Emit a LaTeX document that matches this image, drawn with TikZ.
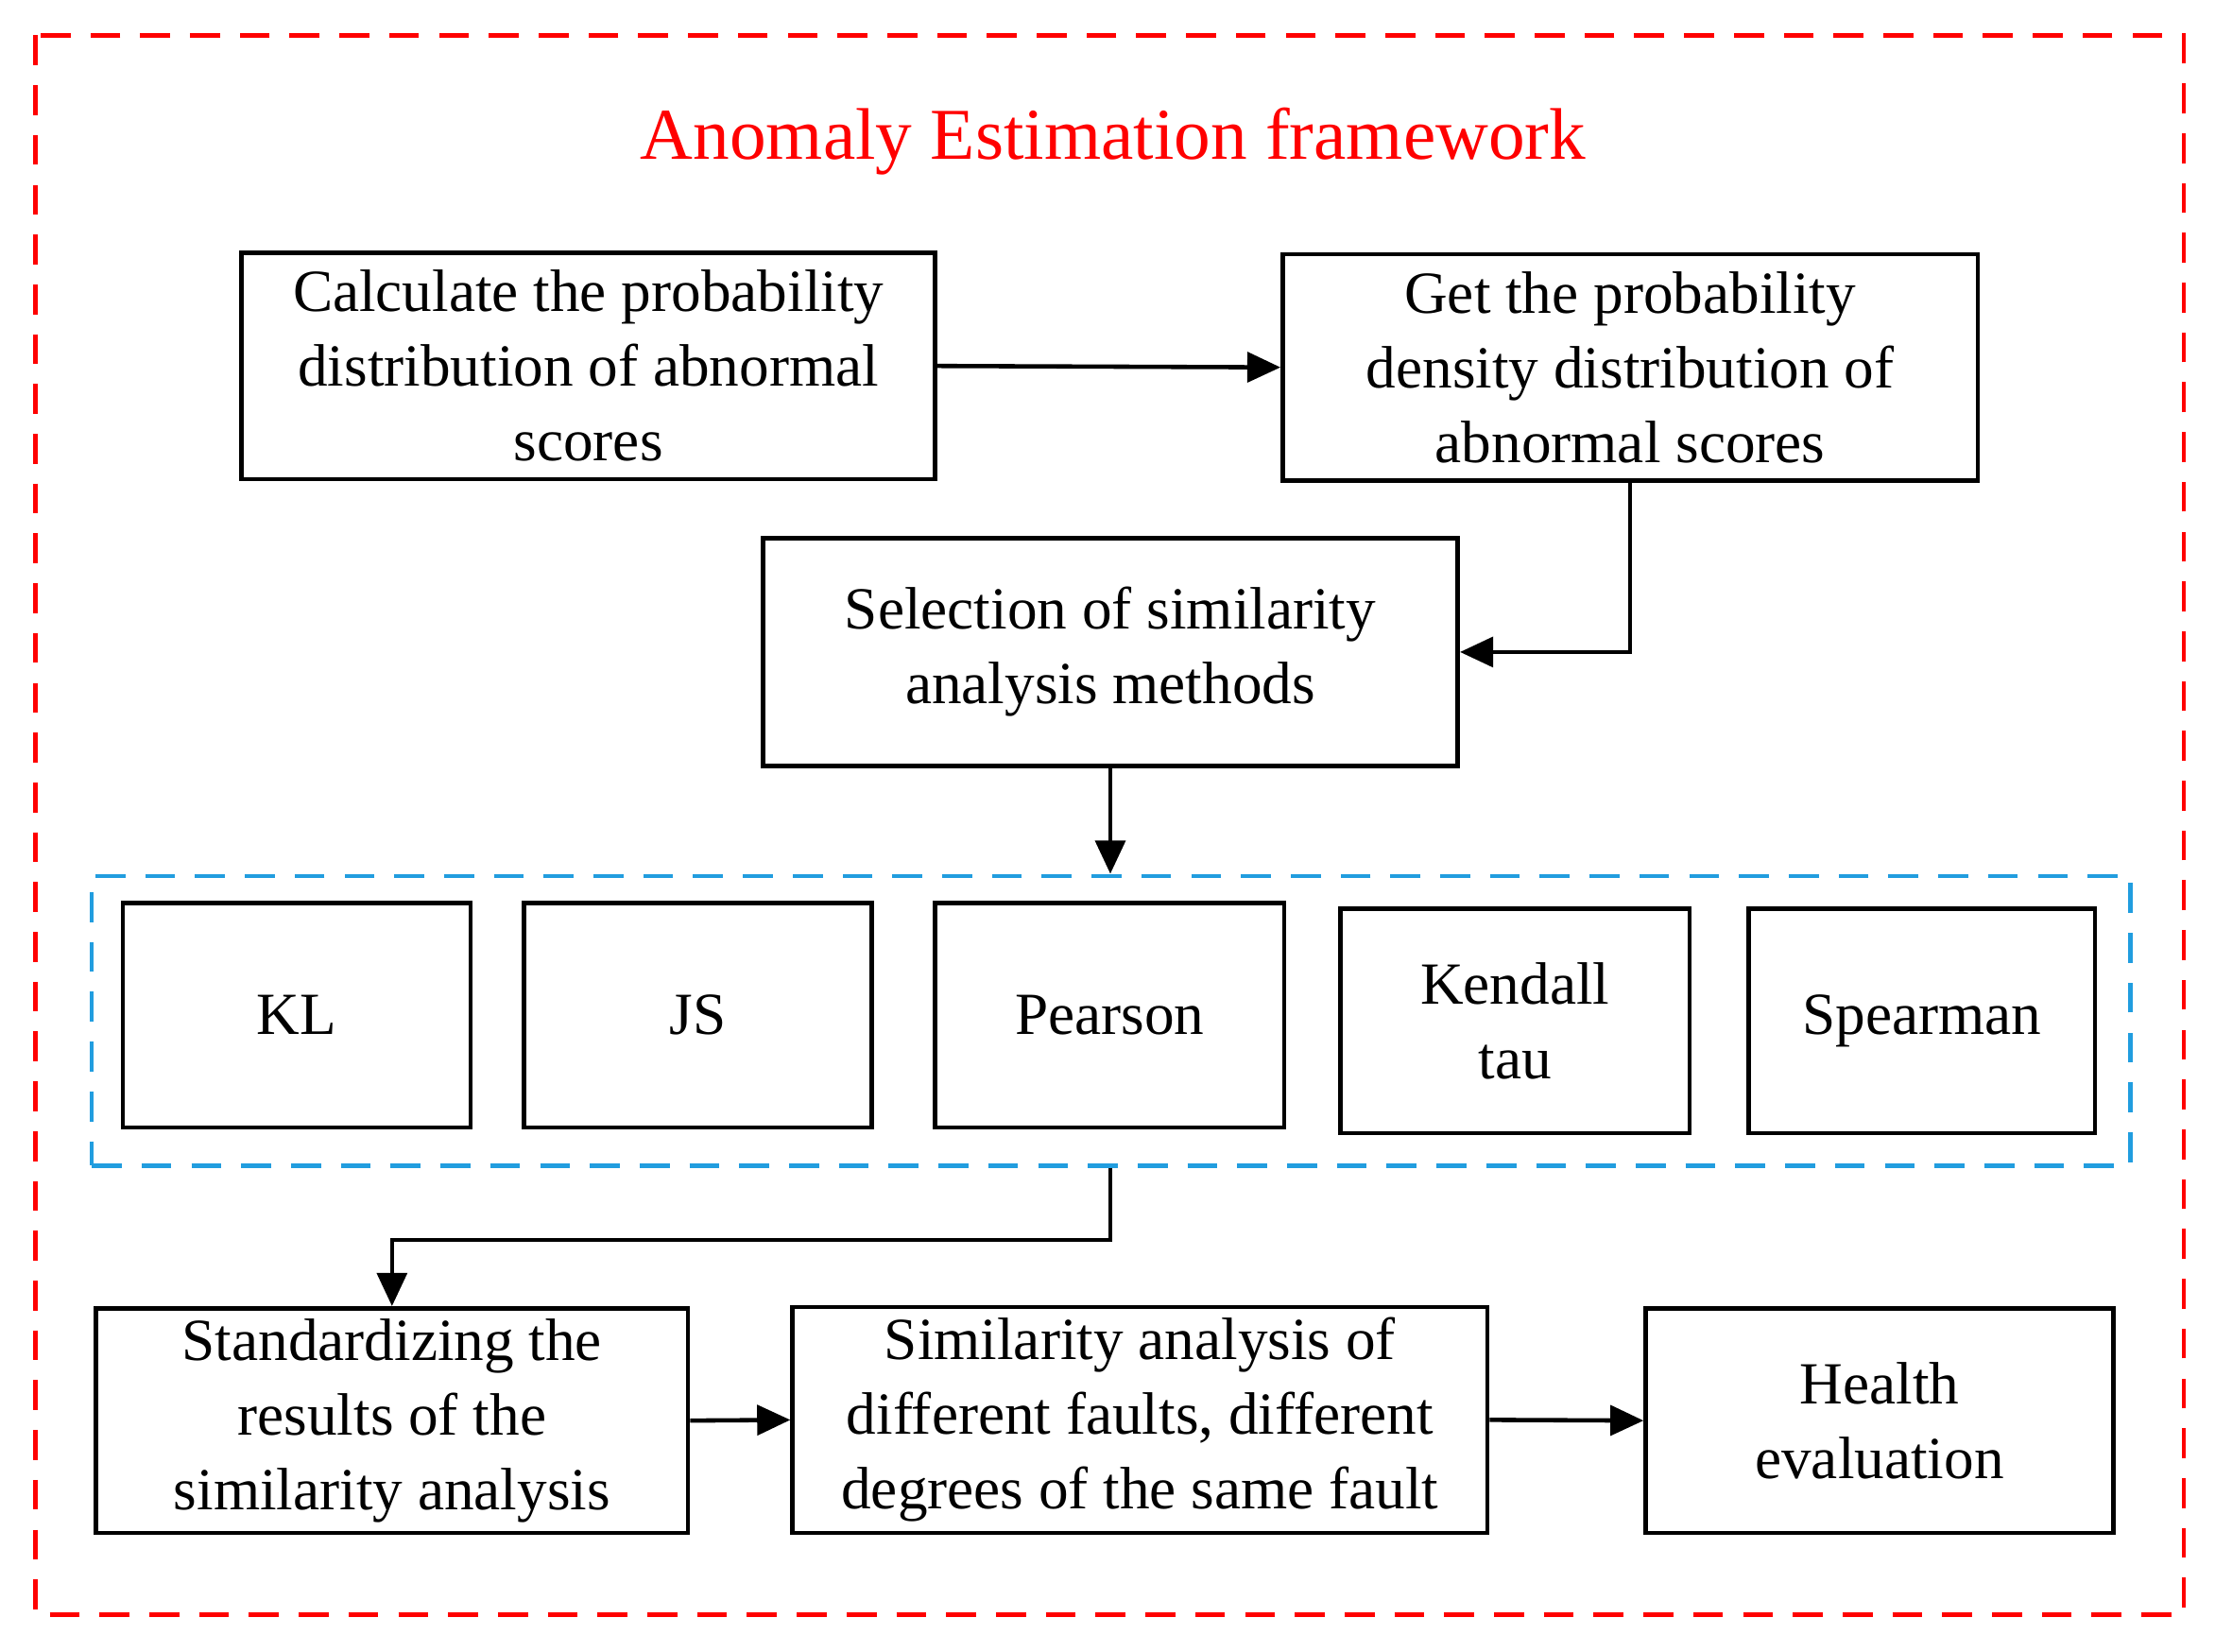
\documentclass[tikz,border=0pt]{standalone}
\usepackage{fontspec}
\setmainfont{Liberation Serif}
\usetikzlibrary{arrows.meta}
\begin{document}
\begin{tikzpicture}[x=0.01495cm,y=-0.01495cm,
  box/.style={draw,line width=1.3pt,align=center,font=\fontsize{18}{22.5}\selectfont,inner sep=0pt},
  arr/.style={line width=1.3pt,-{Triangle[length=10pt,width=9pt]}}]
\useasboundingbox (0,0) rectangle (1568,1169);
\draw[red,line width=1.3pt,dash pattern=on 9pt off 6pt] (25,25) rectangle (1546,1143);
\node[red,font=\fontsize{22}{26}\selectfont] (title) at (788,100) {Anomaly Estimation framework};
\newcommand\bx[6]{\node[box,minimum width={(#4-#2)*0.01495cm},minimum height={(#5-#3)*0.01495cm}] (#1) at ({(#2+#4)/2},{(#3+#5)/2}) {#6};}
\bx{A}{171}{179}{662}{339}{Calculate the probability\\distribution of abnormal\\scores}
\bx{B}{908}{180}{1400}{340}{Get the probability\\density distribution of\\abnormal scores}
\bx{C}{540}{381}{1032}{542}{Selection of similarity\\analysis methods}
\node[draw=cyan!80!blue!90,line width=1.3pt,dash pattern=on 9pt off 6pt,minimum width={1443*0.01495cm},minimum height={205*0.01495cm},inner sep=0pt] (G) at (786.5,722.5) {};
\bx{KL}{87}{639}{333}{798}{KL}
\bx{JS}{371}{639}{617}{798}{JS}
\bx{P}{662}{639}{909}{798}{Pearson}
\bx{K}{949}{643}{1196}{802}{Kendall\\tau}
\bx{S}{1238}{643}{1483}{802}{Spearman}
\bx{D}{68}{926}{487}{1085}{Standardizing the\\results of the\\similarity analysis}
\bx{E}{561}{925}{1053}{1085}{Similarity analysis of\\different faults, different\\degrees of the same fault}
\bx{F}{1165}{926}{1496}{1085}{Health\\evaluation}
\draw[arr] (A.east) -- (B.west);
\draw[arr] (B.south) |- (C.east);
\draw[arr] (C.south) -- (G.north-|C.south);
\draw[arr] (G.south-|C.south) -- ++(0,51) -| (D.north);
\draw[arr] (D.east) -- (E.west);
\draw[arr] (E.east) -- (F.west);
\end{tikzpicture}
\end{document}
